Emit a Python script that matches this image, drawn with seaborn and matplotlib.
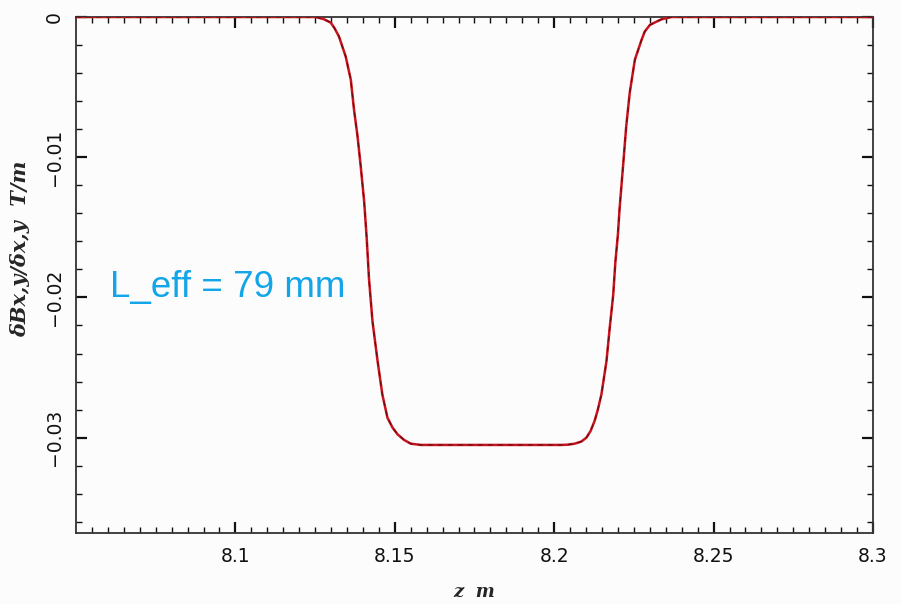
import numpy as np
import pandas as pd
import matplotlib
matplotlib.use("Agg")
import matplotlib.pyplot as plt
import seaborn as sns

z_vals = [8.0500, 8.1000, 8.1252, 8.1278, 8.1299, 8.1311, 8.1325, 8.1346, 8.1362,
          8.1372, 8.1383, 8.1393, 8.1404, 8.1412, 8.1419, 8.1430, 8.1446, 8.1461,
          8.1477, 8.1493, 8.1509, 8.1529, 8.1550, 8.1582, 8.1800, 8.2022, 8.2043,
          8.2064, 8.2085, 8.2101, 8.2114, 8.2127, 8.2137, 8.2148, 8.2164, 8.2174,
          8.2185, 8.2192, 8.2200, 8.2205, 8.2216, 8.2226, 8.2237, 8.2253, 8.2274,
          8.2284, 8.2300, 8.2321, 8.2337, 8.2368, 8.2500, 8.3000]
b_vals = [0.0, 0.0, 0.0, -0.00016, -0.00040, -0.00080, -0.00140, -0.00282, -0.00447,
          -0.00660, -0.00849, -0.01062, -0.01319, -0.01582, -0.01865, -0.02170, -0.02454,
          -0.02693, -0.02858, -0.02929, -0.02977, -0.03016, -0.03043, -0.03052, -0.03052,
          -0.03052, -0.03050, -0.03043, -0.03028, -0.03000, -0.02953, -0.02879, -0.02799,
          -0.02693, -0.02454, -0.02220, -0.01984, -0.01745, -0.01546, -0.01369, -0.01062,
          -0.00778, -0.00539, -0.00305, -0.00163, -0.00104, -0.00057, -0.00033, -0.00016,
          0.0, 0.0, 0.0]

x_ticks = [8.1, 8.15, 8.2, 8.25, 8.3]
x_tick_labels = ["8.1", "8.15", "8.2", "8.25", "8.3"]
y_ticks = [0.0, -0.01, -0.02, -0.03]
y_tick_labels = ["0", "\u22120.01", "\u22120.02", "\u22120.03"]
annotation = "L_eff = 79 mm"

df = pd.DataFrame({"z": z_vals, "B": b_vals})

sns.set_theme(style="ticks")
plt.rcParams["font.family"] = ["DejaVu Sans"]

fig = plt.figure(figsize=(9.02, 6.04), dpi=100, facecolor="#fcfcfc")
ax = fig.add_axes([76 / 902, 71 / 604, 797 / 902, 516 / 604])
ax.set_facecolor("#fcfcfc")

sns.lineplot(data=df, x="z", y="B", ax=ax, estimator=None, sort=False,
             color="#c8141e", linewidth=1.8, zorder=3)
sns.lineplot(data=df, x="z", y="B", ax=ax, estimator=None, sort=False,
             color="#6e0a0e", linewidth=0.9, linestyle=(0, (4, 4)), zorder=4)

ax.set_xlim(8.05, 8.3)
ax.set_ylim(-0.0368, 0.0)

ax.set_xticks(x_ticks)
ax.set_xticklabels(x_tick_labels)
ax.set_yticks(y_ticks)
ax.set_yticklabels(y_tick_labels, rotation=90, va="center")
ax.set_xticks(np.arange(8.055, 8.3, 0.005), minor=True)
ax.set_yticks(np.arange(-0.036, 0.0, 0.002), minor=True)

ax.tick_params(which="both", direction="in", top=True, right=True,
               colors="#111111", labelcolor="#111111")
ax.tick_params(which="major", length=8, width=1.6, labelsize=13.5)
ax.tick_params(axis="x", which="major", pad=10)
ax.tick_params(axis="y", which="major", pad=9)
ax.tick_params(which="minor", length=4.5, width=1.0)

for s in ax.spines.values():
    s.set_color("#333333")
    s.set_linewidth(1.3)

ax.set_xlabel("z  m", fontfamily="DejaVu Serif", fontstyle="italic",
              fontweight="bold", fontsize=13, labelpad=12)
ax.set_ylabel("\u03b4Bx,y/\u03b4x,y  T/m", fontfamily="DejaVu Serif",
              fontstyle="italic", fontweight="bold", fontsize=15)
ax.yaxis.set_label_coords(-0.058, 0.55)

ax.text(8.0607, -0.0200, annotation, color="#12a5e8", fontsize=26.5,
        fontfamily="Liberation Sans", va="baseline", ha="left", zorder=5)

ax.grid(False)
fig.savefig("out.png", dpi=100, facecolor=fig.get_facecolor())
